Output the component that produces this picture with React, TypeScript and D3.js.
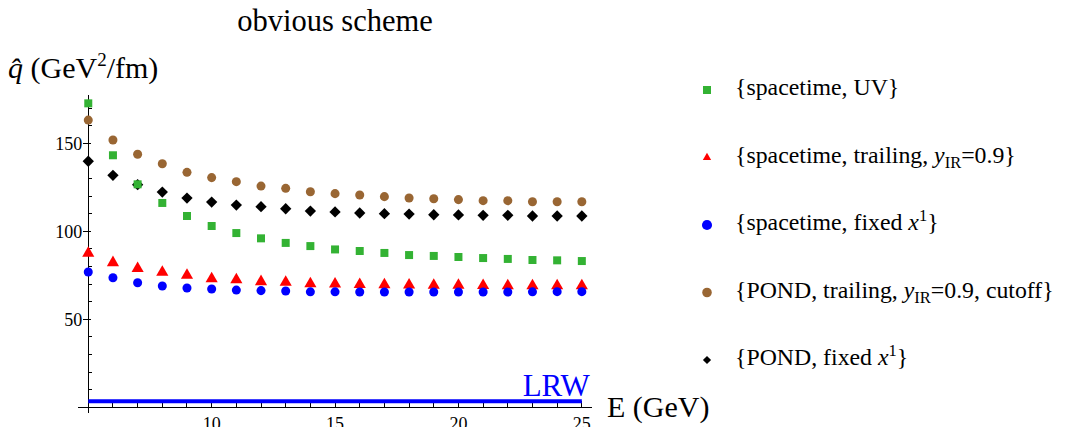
import { useEffect, useRef } from 'react'
import * as d3 from 'd3'

const energies = [5, 6, 7, 8, 9, 10, 11, 12, 13, 14, 15, 16, 17, 18, 19, 20, 21, 22, 23, 24, 25]

const spacetimeUV = [172.7, 143.2, 126.7, 116.1, 108.7, 103.0, 99.0, 96.0, 93.4, 91.6, 89.7, 88.8, 87.7, 86.5, 86.0, 85.4, 84.8, 84.3, 83.7, 83.5, 83.1]
const spacetimeTrailing = [87.5, 82.2, 78.8, 76.7, 75.0, 73.1, 72.5, 71.4, 71.0, 70.2, 70.0, 69.8, 69.6, 69.5, 69.4, 69.3, 69.2, 69.1, 69.0, 69.0, 69.0]
const spacetimeFixed = [76.9, 73.6, 70.8, 68.9, 67.8, 67.2, 66.6, 66.3, 66.1, 65.6, 65.6, 65.5, 65.5, 65.5, 65.5, 65.5, 65.5, 65.5, 65.6, 65.7, 65.7]
const pondTrailing = [163.2, 151.9, 143.8, 138.4, 133.5, 130.5, 128.2, 125.7, 124.4, 122.5, 121.4, 120.6, 119.7, 118.9, 118.5, 118.0, 117.4, 117.4, 116.8, 116.8, 116.8]
const pondFixed = [139.8, 131.8, 126.5, 122.3, 118.9, 116.6, 114.9, 114.0, 112.8, 111.5, 111.0, 110.4, 110.0, 109.8, 109.4, 109.3, 109.1, 109.1, 108.7, 108.7, 108.7]

const lrwValue = 3.5
const xTicks = [10, 15, 20, 25]
const yTicks = [50, 100, 150]

const W = 1066
const H = 427
const FONT = "'Liberation Serif', 'Tinos', 'Times New Roman', 'DejaVu Serif', serif"

type Series = { values: number[]; color: string; shape: string; size: number; legendSize: number }

// drawing order: blue over red, green over black
const series: Series[] = [
  { values: pondFixed, color: '#000000', shape: 'diamond', size: 46, legendSize: 34 },
  { values: pondTrailing, color: '#996633', shape: 'circle', size: 88, legendSize: 72 },
  { values: spacetimeUV, color: '#33b233', shape: 'square', size: 78, legendSize: 64 },
  { values: spacetimeTrailing, color: '#ff0000', shape: 'triangle', size: 40, legendSize: 30 },
  { values: spacetimeFixed, color: '#0000ff', shape: 'circle', size: 95, legendSize: 80 },
]

export default function App() {
  const ref = useRef<SVGSVGElement>(null)

  useEffect(() => {
    if (!ref.current) return
    const svg = d3.select(ref.current)
    svg.selectAll('*').remove()
    svg.style('font-family', FONT)

    const x = d3.scaleLinear().domain([4.6, 25.4]).range([78.4, 591.7])
    const y = d3.scaleLinear().domain([0, 177.5]).range([407.3, 94.9])

    const shapeOf = (s: string) =>
      s === 'circle' ? d3.symbolCircle :
      s === 'triangle' ? d3.symbolTriangle :
      d3.symbolSquare

    const drawSymbol = (g: d3.Selection<any, any, any, any>, s: Series, cx: number, cy: number, size: number) => {
      g.append('path')
        .attr('d', d3.symbol(shapeOf(s.shape), size)() as string)
        .attr('transform', `translate(${cx},${cy})${s.shape === 'diamond' ? ' rotate(45)' : ''}`)
        .attr('fill', s.color)
    }

    // title
    svg.append('text')
      .attr('x', 335).attr('y', 31)
      .attr('text-anchor', 'middle')
      .attr('font-size', 30.5)
      .text('obvious scheme')

    // y label
    const yl = svg.append('text')
      .attr('x', 8).attr('y', 78)
      .attr('font-size', 30)
    yl.append('tspan').attr('font-style', 'italic').text('q\u0302')
    yl.append('tspan').text(' (GeV')
    yl.append('tspan').attr('font-size', 19).attr('dy', -12).text('2')
    yl.append('tspan').attr('dy', 12).text('/fm)')

    // axes
    const axes = svg.append('g').attr('stroke', '#000').attr('stroke-width', 1).attr('shape-rendering', 'crispEdges')
    axes.append('line')
      .attr('x1', x(4.6)).attr('x2', x(25.4))
      .attr('y1', y(0)).attr('y2', y(0))
    axes.append('line')
      .attr('x1', x(5)).attr('x2', x(5))
      .attr('y1', y(-3.5)).attr('y2', y(177.5))

    // x ticks
    for (const t of x.ticks(20)) {
      if (t === 5) continue
      const major = xTicks.includes(t)
      axes.append('line')
        .attr('x1', x(t)).attr('x2', x(t))
        .attr('y1', y(0)).attr('y2', y(0) - (major ? 6 : 4))
    }
    svg.append('g').selectAll('text').data(xTicks).join('text')
      .attr('x', d => x(d)).attr('y', 430)
      .attr('text-anchor', 'middle')
      .attr('font-size', 18)
      .text(d => d)

    // y ticks
    for (const t of d3.range(10, 180, 10)) {
      const major = yTicks.includes(t)
      axes.append('line')
        .attr('x1', x(5) - (major ? 5 : 0)).attr('x2', x(5) + (major ? 3 : 4))
        .attr('y1', y(t)).attr('y2', y(t))
    }
    svg.append('g').selectAll('text').data(yTicks).join('text')
      .attr('x', x(5) - 6).attr('y', d => y(d) + 6.5)
      .attr('text-anchor', 'end')
      .attr('font-size', 18)
      .text(d => d)

    // LRW line
    svg.append('line')
      .attr('x1', x(5)).attr('x2', x(25))
      .attr('y1', y(lrwValue)).attr('y2', y(lrwValue))
      .attr('stroke', '#0000ff').attr('stroke-width', 4)
    svg.append('text')
      .attr('x', x(25) + 8).attr('y', 396)
      .attr('text-anchor', 'end')
      .attr('font-size', 31)
      .attr('fill', '#0000ff')
      .text('LRW')

    // x label
    svg.append('text')
      .attr('x', 607).attr('y', 417)
      .attr('font-size', 30)
      .text('E (GeV)')

    // points
    const pts = svg.append('g')
    for (const s of series) {
      s.values.forEach((v, i) => drawSymbol(pts, s, x(energies[i]), y(v)))
    }

    // legend
    const legendRows: { s: Series; parts: [string, string][] }[] = [
      { s: series[2], parts: [['n', '{spacetime, UV}']] },
      { s: series[3], parts: [['n', '{spacetime, trailing, '], ['i', 'y'], ['sub', 'IR'], ['n', '=0.9}']] },
      { s: series[4], parts: [['n', '{spacetime, fixed '], ['i', 'x'], ['sup', '1'], ['n', '}']] },
      { s: series[1], parts: [['n', '{POND, trailing, '], ['i', 'y'], ['sub', 'IR'], ['n', '=0.9, cutoff}']] },
      { s: series[0], parts: [['n', '{POND, fixed '], ['i', 'x'], ['sup', '1'], ['n', '}']] },
    ]
    const lg = svg.append('g')
    legendRows.forEach((row, i) => {
      const cy = 90 + i * 67.5
      drawSymbol(lg, row.s, 707, cy, row.s.legendSize)
      const t = lg.append('text')
        .attr('x', 735).attr('y', cy + 5)
        .attr('font-size', 23.8)
      let shift = 0
      for (const [kind, str] of row.parts) {
        const sp = t.append('tspan').text(str)
        const target = kind === 'sub' ? 5 : kind === 'sup' ? -9 : 0
        if (target !== shift) { sp.attr('dy', target - shift); shift = target }
        if (kind === 'i') sp.attr('font-style', 'italic')
        if (kind === 'sub' || kind === 'sup') sp.attr('font-size', 16.5)
      }
    })
  }, [])

  return (
    <div style={{ position: 'fixed', left: 0, top: 0 }}>
      <svg ref={ref} width={W} height={H} style={{ display: 'block', background: '#fff' }} />
    </div>
  )
}
